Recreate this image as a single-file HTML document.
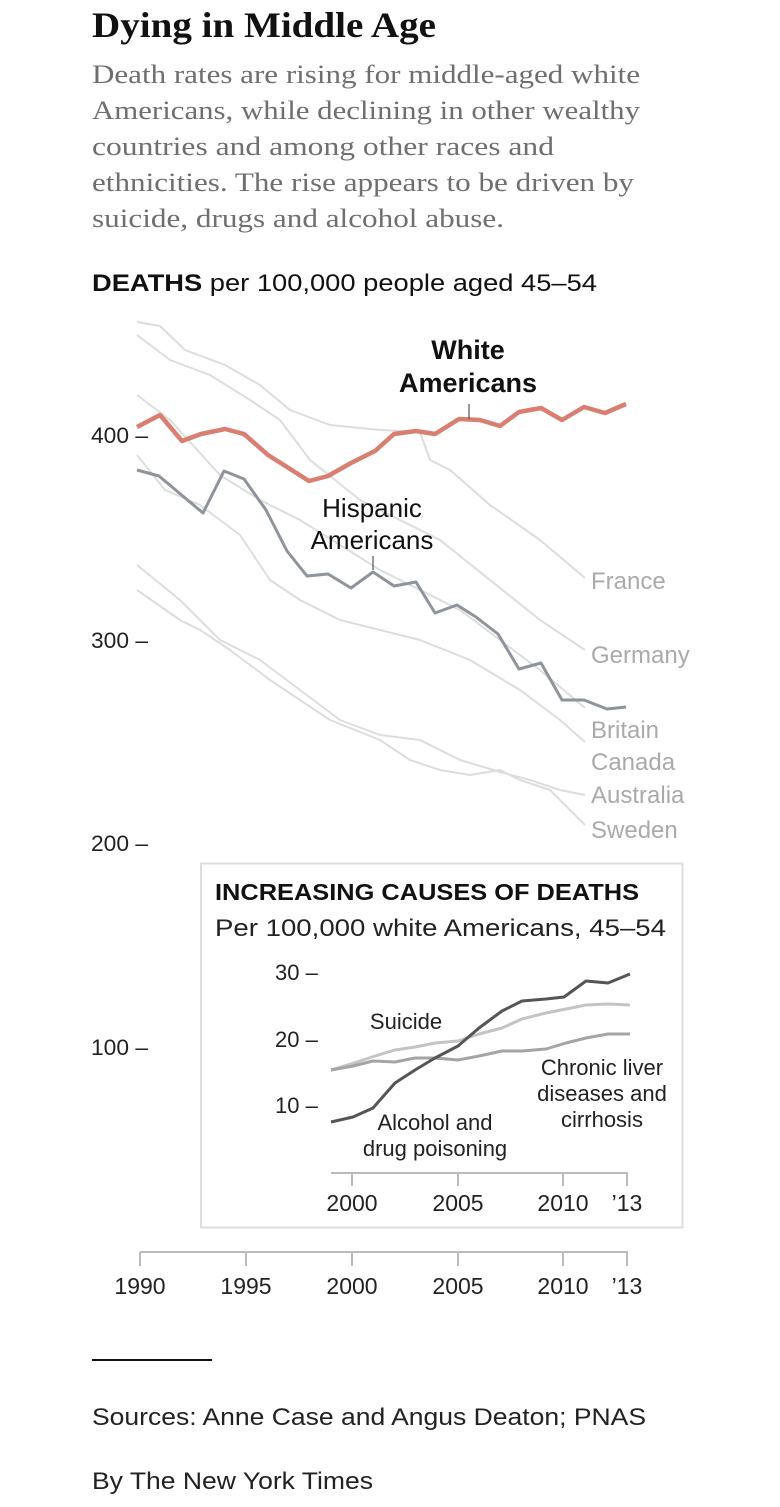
<!DOCTYPE html>
<html><head><meta charset="utf-8"><style>
html,body{margin:0;padding:0;background:#fff;}
svg{display:block;}
.s{font-family:"Liberation Sans",sans-serif;}
.r{font-family:"Liberation Serif",serif;}
</style></head><body>
<svg width="780" height="1507" viewBox="0 0 780 1507" xmlns="http://www.w3.org/2000/svg">
<rect width="780" height="1507" fill="#fff"/>
<text class="r" x="92" y="37" font-size="36" font-weight="bold" fill="#111" textLength="344" lengthAdjust="spacingAndGlyphs">Dying in Middle Age</text>
<g class="r" font-size="26" fill="#6f6f6f">
<text x="92" y="83" textLength="548" lengthAdjust="spacingAndGlyphs">Death rates are rising for middle-aged white</text>
<text x="92" y="119" textLength="548" lengthAdjust="spacingAndGlyphs">Americans, while declining in other wealthy</text>
<text x="92" y="155" textLength="462" lengthAdjust="spacingAndGlyphs">countries and among other races and</text>
<text x="92" y="191" textLength="542" lengthAdjust="spacingAndGlyphs">ethnicities. The rise appears to be driven by</text>
<text x="92" y="227" textLength="412" lengthAdjust="spacingAndGlyphs">suicide, drugs and alcohol abuse.</text>
</g>
<text class="s" x="92" y="291" font-size="24" fill="#111" textLength="505" lengthAdjust="spacingAndGlyphs"><tspan font-weight="bold">DEATHS</tspan> per 100,000 people aged 45–54</text>

<!-- y ticks -->
<g class="s" font-size="22" fill="#222">
<text x="91" y="443" textLength="57" lengthAdjust="spacingAndGlyphs">400 –</text>
<text x="91" y="648" textLength="57" lengthAdjust="spacingAndGlyphs">300 –</text>
<text x="91" y="851" textLength="57" lengthAdjust="spacingAndGlyphs">200 –</text>
<text x="91" y="1055" textLength="57" lengthAdjust="spacingAndGlyphs">100 –</text>
</g>

<!-- country lines -->
<g fill="none" stroke="#ddd" stroke-width="2" stroke-linejoin="round">
<polyline points="137,322 160,326 185,350 225,365 260,385 290,410 330,425 380,430 420,432 430,460 450,470 490,505 540,540 585,578"/>
<polyline points="137,335 170,360 210,375 250,400 280,420 310,460 335,480 360,500 400,520 440,540 490,580 540,620 585,650"/>
<polyline points="137,395 170,420 220,475 260,500 300,520 340,545 380,570 420,590 460,610 500,640 540,670 585,708"/>
<polyline points="137,455 165,490 200,505 240,535 270,580 300,600 340,620 380,630 420,640 470,660 520,690 560,720 585,742"/>
<polyline points="137,565 180,600 220,640 260,660 300,690 340,720 380,735 420,740 460,760 500,772 530,780 560,790 585,795"/>
<polyline points="137,590 180,620 200,630 230,650 270,680 300,700 330,720 380,740 410,760 440,770 470,775 500,770 520,780 550,790 570,810 585,825"/>
</g>
<g class="s" font-size="24" fill="#aaa">
<text x="591" y="589">France</text>
<text x="591" y="663">Germany</text>
<text x="591" y="738">Britain</text>
<text x="591" y="770">Canada</text>
<text x="591" y="803">Australia</text>
<text x="591" y="838">Sweden</text>
</g>

<!-- Hispanic -->
<polyline fill="none" stroke="#8e949c" stroke-width="3" stroke-linejoin="round" points="137,470 159,476 203,513 224,471 244,479 266,510 287,551 307,576 328,574 351,588 373,572 394,586 416,582 435,613 457,605 476,617 498,634 519,669 541,663 562,700 584,700 607,709 626,707"/>
<!-- White -->
<polyline fill="none" stroke="#d97f72" stroke-width="4.5" stroke-linejoin="round" points="137,427 160,415 182,441 201,434 225,429 244,434 268,455 287,467 309,481 328,476 351,463 375,451 394,434 416,431 435,434 459,419 480,420 500,426 519,412 541,408 562,420 584,407 605,413 626,404"/>
<line x1="469" y1="404" x2="469" y2="419" stroke="#333" stroke-width="1"/>
<line x1="373" y1="556" x2="373" y2="570" stroke="#333" stroke-width="1"/>
<g class="s" font-size="27" font-weight="bold" fill="#111" text-anchor="middle">
<text x="468" y="359">White</text>
<text x="468" y="392">Americans</text>
</g>
<g class="s" font-size="26" fill="#111" text-anchor="middle">
<text x="372" y="517">Hispanic</text>
<text x="372" y="549">Americans</text>
</g>

<!-- inset -->
<rect x="201" y="863.5" width="481.5" height="364" fill="#fff" stroke="#ddd" stroke-width="2"/>
<text class="s" x="215" y="900" font-size="23" font-weight="bold" fill="#111" textLength="424" lengthAdjust="spacingAndGlyphs">INCREASING CAUSES OF DEATHS</text>
<text class="s" x="215" y="936" font-size="24" fill="#222" textLength="451" lengthAdjust="spacingAndGlyphs">Per 100,000 white Americans, 45–54</text>
<g class="s" font-size="22" fill="#222">
<text x="275" y="980">30 –</text>
<text x="275" y="1047">20 –</text>
<text x="275" y="1113">10 –</text>
</g>
<g fill="none" stroke-width="3" stroke-linejoin="round">
<polyline stroke="#c4c4c4" points="331,1070 354,1063 375,1056 395,1050 415,1047 435,1043 458,1041 479,1034 502,1028 522,1019 546,1013 566,1009 586,1005 608,1004 630,1005"/>
<polyline stroke="#a4a4a4" points="331,1070 353,1066 373,1061 395,1062 415,1058 435,1058 458,1060 479,1056 502,1051 522,1051 546,1049 566,1043 586,1038 608,1034 630,1034"/>
<polyline stroke="#555" points="331,1122 353,1117 373,1108 395,1083 415,1070 435,1058 458,1046 479,1028 502,1011 522,1001 546,999 564,997 586,981 608,983 630,974"/>
</g>
<g class="s" font-size="22" fill="#222" text-anchor="middle">
<text x="406" y="1029">Suicide</text>
<text x="435" y="1130">Alcohol and</text>
<text x="435" y="1156">drug poisoning</text>
<text x="602" y="1075">Chronic liver</text>
<text x="602" y="1101">diseases and</text>
<text x="602" y="1127">cirrhosis</text>
</g>
<g stroke="#bbb" stroke-width="2" fill="none">
<line x1="331" y1="1173" x2="628" y2="1173"/>
<line x1="352" y1="1173" x2="352" y2="1186"/>
<line x1="458" y1="1173" x2="458" y2="1186"/>
<line x1="563" y1="1173" x2="563" y2="1186"/>
<line x1="627" y1="1173" x2="627" y2="1186"/>
</g>
<g class="s" font-size="23" fill="#222" text-anchor="middle">
<text x="352" y="1211">2000</text>
<text x="458" y="1211">2005</text>
<text x="563" y="1211">2010</text>
<text x="627" y="1211">’13</text>
</g>

<!-- main x axis -->
<g stroke="#bbb" stroke-width="2" fill="none">
<line x1="140" y1="1252" x2="628" y2="1252"/>
<line x1="140" y1="1252" x2="140" y2="1266"/>
<line x1="246" y1="1252" x2="246" y2="1266"/>
<line x1="352" y1="1252" x2="352" y2="1266"/>
<line x1="458" y1="1252" x2="458" y2="1266"/>
<line x1="563" y1="1252" x2="563" y2="1266"/>
<line x1="627" y1="1252" x2="627" y2="1266"/>
</g>
<g class="s" font-size="23" fill="#222" text-anchor="middle">
<text x="140" y="1294">1990</text>
<text x="246" y="1294">1995</text>
<text x="352" y="1294">2000</text>
<text x="458" y="1294">2005</text>
<text x="563" y="1294">2010</text>
<text x="627" y="1294">’13</text>
</g>

<line x1="92" y1="1360" x2="212" y2="1360" stroke="#111" stroke-width="2"/>
<text class="s" x="92" y="1425" font-size="24" fill="#222" textLength="554" lengthAdjust="spacingAndGlyphs">Sources: Anne Case and Angus Deaton; PNAS</text>
<text class="s" x="92" y="1489" font-size="24" fill="#222" textLength="281" lengthAdjust="spacingAndGlyphs">By The New York Times</text>
</svg>
</body></html>
